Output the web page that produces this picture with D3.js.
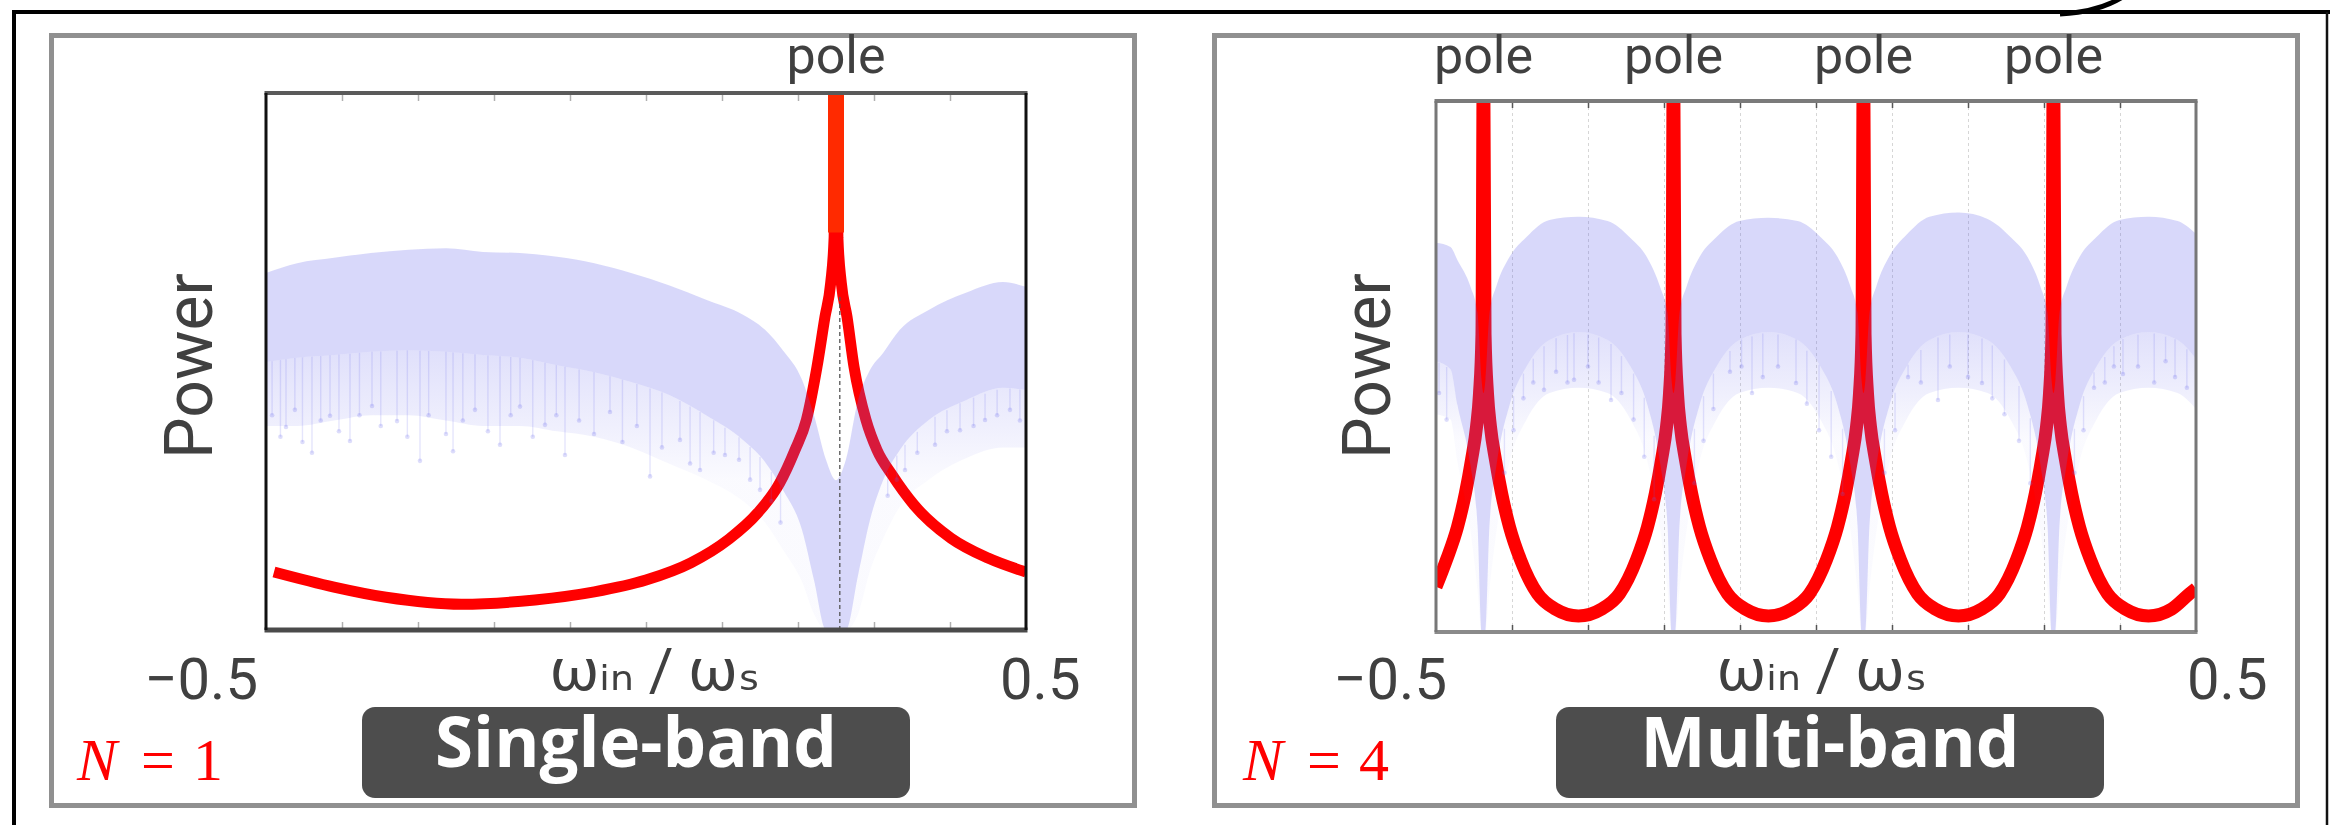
<!DOCTYPE html>
<html>
<head>
<meta charset="utf-8">
<script src="https://cdn.jsdelivr.net/npm/d3@7"></script>
<style>
  html, body { margin: 0; padding: 0; background: #fff; }
  svg { display: block; }
</style>
</head>
<body>
<div id="chart"></div>
<script>

// ---- data (x = omega_in / omega_s, power = relative 0..1 of plot height) ----
const xTickLabels = ['\u22120.5', '0.5'];
const xAxisLabel  = '\u03c9\u1d62\u2099 / \u03c9\u209b';
const bandNames   = ['Single-band', 'Multi-band'];
const bandCounts  = [1, 4];
const gridTicks   = [-0.4, -0.3, -0.2, -0.1, 0, 0.1, 0.2, 0.3, 0.4];

const singlePoles = [0.25];
const multiPoles  = [-0.4375, -0.1875, 0.0625, 0.3125];

// red response curve [x, power]
const singleRed = [
  [-0.4895, 0.108], [-0.4105, 0.080], [-0.342, 0.061], [-0.243, 0.048], [-0.146, 0.056],
  [-0.068, 0.071], [0.0, 0.093], [0.059, 0.125], [0.108, 0.168], [0.147, 0.218],
  [0.176, 0.274], [0.196, 0.335], [0.211, 0.391], [0.225, 0.490], [0.2355, 0.583],
  [0.243, 0.646], [0.2475, 0.73], [0.2495, 1.05], [0.2505, 1.05], [0.2525, 0.73],
  [0.257, 0.646], [0.2645, 0.583], [0.2737, 0.490], [0.2895, 0.391], [0.304, 0.335],
  [0.3237, 0.289], [0.3526, 0.233], [0.4013, 0.171], [0.45, 0.134], [0.5, 0.108]
];

const multiRed = [
  [-0.5, 0.085], [-0.4862, 0.136], [-0.4717, 0.198], [-0.4612, 0.262], [-0.4533, 0.324],
  [-0.4467, 0.386], [-0.4428, 0.448], [-0.4395, 0.561], [-0.4379, 1.05], [-0.4371, 1.05],
  [-0.4355, 0.561], [-0.4322, 0.448], [-0.4283, 0.386], [-0.4217, 0.324], [-0.4138, 0.262],
  [-0.4033, 0.198], [-0.3888, 0.136], [-0.3664, 0.072], [-0.3428, 0.043], [-0.3125, 0.030],
  [-0.2822, 0.043], [-0.2586, 0.072], [-0.2362, 0.136], [-0.2217, 0.198], [-0.2112, 0.262],
  [-0.2033, 0.324], [-0.1967, 0.386], [-0.1928, 0.448], [-0.1895, 0.561], [-0.1879, 1.05],
  [-0.1871, 1.05], [-0.1855, 0.561], [-0.1822, 0.448], [-0.1783, 0.386], [-0.1717, 0.324],
  [-0.1638, 0.262], [-0.1533, 0.198], [-0.1388, 0.136], [-0.1164, 0.072], [-0.0928, 0.043],
  [-0.0625, 0.030], [-0.0322, 0.043], [-0.0086, 0.072], [0.0138, 0.136], [0.0283, 0.198],
  [0.0388, 0.262], [0.0467, 0.324], [0.0533, 0.386], [0.0572, 0.448], [0.0605, 0.561],
  [0.0621, 1.05], [0.0629, 1.05], [0.0645, 0.561], [0.0678, 0.448], [0.0717, 0.386],
  [0.0783, 0.324], [0.0862, 0.262], [0.0967, 0.198], [0.1112, 0.136], [0.1336, 0.072],
  [0.1572, 0.043], [0.1875, 0.030], [0.2178, 0.043], [0.2414, 0.072], [0.2638, 0.136],
  [0.2783, 0.198], [0.2888, 0.262], [0.2967, 0.324], [0.3033, 0.386], [0.3072, 0.448],
  [0.3105, 0.561], [0.3121, 1.05], [0.3129, 1.05], [0.3145, 0.561], [0.3178, 0.448],
  [0.3217, 0.386], [0.3283, 0.324], [0.3362, 0.262], [0.3467, 0.198], [0.3612, 0.136],
  [0.3836, 0.072], [0.4072, 0.043], [0.4375, 0.030], [0.4678, 0.043], [0.4914, 0.072],
  [0.5, 0.082]
];

// blue input spectrum envelope [x, top, dense bottom, sparse floor]
const singleNoise = [
  [-0.5, 0.665, 0.499, 0.38], [-0.459, 0.683, 0.507, 0.38], [-0.4105, 0.693, 0.512, 0.39],
  [-0.362, 0.702, 0.518, 0.40], [-0.312, 0.708, 0.521, 0.40], [-0.263, 0.711, 0.518, 0.39],
  [-0.2145, 0.704, 0.512, 0.38], [-0.166, 0.702, 0.507, 0.38], [-0.117, 0.695, 0.493, 0.37],
  [-0.068, 0.683, 0.480, 0.36], [-0.0197, 0.665, 0.462, 0.34], [0.030, 0.642, 0.438, 0.31],
  [0.079, 0.615, 0.400, 0.28], [0.1276, 0.587, 0.354, 0.24], [0.1566, 0.559, 0.313, 0.20],
  [0.180, 0.521, 0.261, 0.15], [0.2053, 0.466, 0.186, 0.09], [0.221, 0.400, 0.093, 0.03],
  [0.2368, 0.317, 0, 0], [0.25, 0.279, 0, 0], [0.263, 0.317, 0, 0],
  [0.279, 0.428, 0.102, 0.03], [0.2947, 0.484, 0.205, 0.11], [0.312, 0.516, 0.279, 0.17],
  [0.334, 0.559, 0.335, 0.23], [0.372, 0.596, 0.391, 0.28], [0.421, 0.628, 0.428, 0.32],
  [0.4697, 0.648, 0.451, 0.34], [0.5, 0.639, 0.447, 0.34]
];

const multiNoise = [
  [-0.5, 0.733, 0.510, 0.41], [-0.4809, 0.725, 0.495, 0.40], [-0.4717, 0.700, 0.427, 0.32],
  [-0.4546, 0.650, 0.314, 0.19], [-0.4454, 0.601, 0.201, 0.08], [-0.4401, 0.475, 0, 0],
  [-0.4375, 0.45, 0, 0], [-0.4349, 0.475, 0, 0], [-0.4296, 0.601, 0.201, 0.08],
  [-0.4204, 0.652, 0.314, 0.19], [-0.4033, 0.706, 0.427, 0.32], [-0.3809, 0.744, 0.500, 0.40],
  [-0.3507, 0.776, 0.550, 0.45], [-0.3125, 0.782, 0.565, 0.46], [-0.2743, 0.774, 0.550, 0.45],
  [-0.2441, 0.742, 0.500, 0.40], [-0.2217, 0.704, 0.427, 0.32], [-0.2046, 0.648, 0.314, 0.19],
  [-0.1954, 0.601, 0.201, 0.08], [-0.1901, 0.475, 0, 0], [-0.1875, 0.45, 0, 0],
  [-0.1849, 0.475, 0, 0], [-0.1796, 0.601, 0.201, 0.08], [-0.1704, 0.650, 0.314, 0.19],
  [-0.1533, 0.706, 0.427, 0.32], [-0.1309, 0.744, 0.500, 0.40], [-0.1007, 0.774, 0.550, 0.45],
  [-0.0625, 0.780, 0.565, 0.46], [-0.0243, 0.774, 0.550, 0.45], [0.0059, 0.744, 0.500, 0.40],
  [0.0283, 0.706, 0.427, 0.32], [0.0454, 0.650, 0.314, 0.19], [0.0546, 0.601, 0.201, 0.08],
  [0.0599, 0.475, 0, 0], [0.0625, 0.45, 0, 0], [0.0651, 0.475, 0, 0],
  [0.0704, 0.601, 0.201, 0.08], [0.0796, 0.652, 0.314, 0.19], [0.0967, 0.708, 0.427, 0.32],
  [0.1191, 0.748, 0.500, 0.40], [0.1493, 0.782, 0.550, 0.45], [0.1875, 0.790, 0.565, 0.46],
  [0.2257, 0.778, 0.550, 0.45], [0.2559, 0.744, 0.500, 0.40], [0.2783, 0.706, 0.427, 0.32],
  [0.2954, 0.650, 0.314, 0.19], [0.3046, 0.601, 0.201, 0.08], [0.3099, 0.475, 0, 0],
  [0.3125, 0.45, 0, 0], [0.3151, 0.475, 0, 0], [0.3204, 0.601, 0.201, 0.08],
  [0.3296, 0.650, 0.314, 0.19], [0.3467, 0.706, 0.427, 0.32], [0.3691, 0.744, 0.500, 0.40],
  [0.3993, 0.776, 0.550, 0.45], [0.4375, 0.782, 0.565, 0.46], [0.4757, 0.774, 0.550, 0.45],
  [0.5, 0.750, 0.515, 0.42]
];

// sparse downward spikes of the spectrum [x, lowest power]
const singleStems = [
  [-0.492, 0.40], [-0.481, 0.36], [-0.4737, 0.378], [-0.462, 0.41], [-0.452, 0.35],
  [-0.4395, 0.330], [-0.428, 0.39], [-0.4158, 0.399], [-0.404, 0.37], [-0.3895, 0.352],
  [-0.377, 0.40], [-0.3605, 0.417], [-0.349, 0.38], [-0.3276, 0.389], [-0.314, 0.36],
  [-0.2974, 0.315], [-0.286, 0.40], [-0.2632, 0.365], [-0.2539, 0.333], [-0.241, 0.39],
  [-0.225, 0.410], [-0.208, 0.37], [-0.1921, 0.345], [-0.178, 0.40], [-0.1658, 0.416],
  [-0.149, 0.36], [-0.1329, 0.382], [-0.118, 0.40], [-0.1066, 0.326], [-0.088, 0.39],
  [-0.0684, 0.365], [-0.0474, 0.406], [-0.031, 0.35], [-0.012, 0.38], [0.0053, 0.286],
  [0.021, 0.34], [0.0447, 0.354], [0.058, 0.31], [0.0711, 0.298], [0.089, 0.33],
  [0.1039, 0.326], [0.1224, 0.317], [0.137, 0.28], [0.15, 0.261], [0.165, 0.24],
  [0.177, 0.20], [0.318, 0.25], [0.33, 0.28], [0.3408, 0.298], [0.357, 0.33],
  [0.3803, 0.345], [0.396, 0.37], [0.4132, 0.372], [0.431, 0.38], [0.4461, 0.391],
  [0.462, 0.40], [0.4789, 0.410], [0.492, 0.39]
];

const multiStems = [
  [-0.496, 0.45], [-0.486, 0.40], [-0.41, 0.30], [-0.398, 0.38], [-0.385, 0.44],
  [-0.372, 0.47], [-0.3579, 0.456], [-0.342, 0.49], [-0.327, 0.47], [-0.3184, 0.475],
  [-0.300, 0.50], [-0.286, 0.47], [-0.2697, 0.437], [-0.256, 0.45], [-0.24, 0.40],
  [-0.226, 0.33], [-0.213, 0.25], [-0.16, 0.28], [-0.148, 0.36], [-0.135, 0.42],
  [-0.1132, 0.49], [-0.098, 0.50], [-0.0842, 0.450], [-0.07, 0.48], [-0.05, 0.50],
  [-0.0263, 0.469], [-0.012, 0.43], [0.004, 0.38], [0.02, 0.33], [0.035, 0.26],
  [0.09, 0.30], [0.104, 0.38], [0.1211, 0.48], [0.138, 0.47], [0.1605, 0.437],
  [0.176, 0.50], [0.2, 0.48], [0.2184, 0.469], [0.232, 0.44], [0.248, 0.41],
  [0.2671, 0.36], [0.282, 0.28], [0.34, 0.30], [0.352, 0.38], [0.3658, 0.46],
  [0.38, 0.47], [0.392, 0.50], [0.4039, 0.486], [0.4237, 0.50], [0.445, 0.47],
  [0.46, 0.51], [0.4724, 0.48], [0.488, 0.46]
];

// thin dashed marker under the single pole [x, power]
const singleDash = [[0.255, 0.62], [0.255, 0]];

const labelFont = 'Roboto, "DejaVu Sans", "Noto Sans", sans-serif';
const boldFont  = '"Open Sans", "Noto Sans", sans-serif';
const textColor = '#404040';
const blue      = 'rgb(100,100,235)';

const svg = d3.select('#chart')
  .append('svg')
  .attr('width', 2330)
  .attr('height', 825)
  .attr('viewBox', '0 0 2330 825');

svg.append('rect').attr('width', 2330).attr('height', 825).attr('fill', '#fff');
const defs = svg.append('defs');

// outer black frame and the arrow tail at the top
svg.append('path')
  .attr('d', 'M14,825 L14,12 L2330,12')
  .attr('fill', 'none').attr('stroke', '#000').attr('stroke-width', 4);
svg.append('line')
  .attr('x1', 2327).attr('x2', 2327).attr('y1', 12).attr('y2', 825)
  .attr('stroke', '#111').attr('stroke-width', 2.5);
svg.append('path')
  .attr('d', 'M2060,14 Q2100,12 2124,-4')
  .attr('fill', 'none').attr('stroke', '#000').attr('stroke-width', 5);

function denseAt(rows, xv) {
  const i = Math.max(0, Math.min(rows.length - 2, d3.bisector(r => r[0]).right(rows, xv) - 1));
  const a = rows[i], b = rows[i + 1];
  const t = (xv - a[0]) / (b[0] - a[0]);
  return a[2] + (b[2] - a[2]) * t;
}

function drawPanel(opt) {
  const x = d3.scaleLinear().domain([-0.5, 0.5]).range([opt.left, opt.right]);
  const y = d3.scaleLinear().domain([0, 1]).range([opt.bottom, opt.top]);
  const height = opt.bottom - opt.top;

  // gray card
  svg.append('rect')
    .attr('x', opt.boxX).attr('y', 35.5)
    .attr('width', 1083).attr('height', 770)
    .attr('fill', '#fff').attr('stroke', '#909090').attr('stroke-width', 5);

  const clipId = 'clip-' + opt.id;
  defs.append('clipPath').attr('id', clipId)
    .append('rect')
    .attr('x', opt.left).attr('y', opt.top)
    .attr('width', opt.right - opt.left).attr('height', height);

  // fading fill for the sparse lower part of the spectrum
  const fadeId = 'fade-' + opt.id;
  const grad = defs.append('linearGradient').attr('id', fadeId)
    .attr('gradientUnits', 'userSpaceOnUse')
    .attr('x1', 0).attr('x2', 0)
    .attr('y1', y(opt.fade[0])).attr('y2', y(opt.fade[1]));
  grad.append('stop').attr('offset', 0).attr('stop-color', blue).attr('stop-opacity', 0.2);
  grad.append('stop').attr('offset', 1).attr('stop-color', blue).attr('stop-opacity', 0.03);

  const plot = svg.append('g').attr('clip-path', `url(#${clipId})`);

  if (opt.grid) {
    plot.append('g')
      .attr('transform', `translate(0,${opt.bottom})`)
      .call(d3.axisBottom(x).tickValues(gridTicks).tickSize(-height).tickFormat(''))
      .call(g => g.select('.domain').remove())
      .call(g => g.selectAll('text').remove())
      .call(g => g.selectAll('line')
        .attr('stroke', '#d6d6d6').attr('stroke-width', 1).attr('stroke-dasharray', '3,3'));
  }

  const line = d3.line().x(d => x(d[0])).y(d => y(d[1])).curve(d3.curveMonotoneX);

  plot.append('path').datum(opt.red)
    .attr('d', line)
    .attr('fill', 'none')
    .attr('stroke', '#ff0000')
    .attr('stroke-width', opt.redWidth)
    .attr('stroke-linejoin', 'round');

  if (opt.poleCap) {
    plot.selectAll(null).data(opt.poles).join('line')
      .attr('x1', d => x(d)).attr('x2', d => x(d))
      .attr('y1', y(1)).attr('y2', y(0.74))
      .attr('stroke', '#ff2a00').attr('stroke-width', 16);
  }

  const dense = d3.area()
    .x(d => x(d[0])).y0(d => y(d[2])).y1(d => y(d[1]))
    .curve(d3.curveMonotoneX);
  const sparse = d3.area()
    .x(d => x(d[0])).y0(d => y(d[3])).y1(d => y(d[2]))
    .curve(d3.curveMonotoneX);

  plot.append('path').datum(opt.noise)
    .attr('d', dense).attr('fill', blue).attr('fill-opacity', 0.25);
  plot.append('path').datum(opt.noise)
    .attr('d', sparse).attr('fill', `url(#${fadeId})`);

  plot.selectAll(null).data(opt.stems).join('line')
    .attr('x1', d => x(d[0])).attr('x2', d => x(d[0]))
    .attr('y1', d => y(denseAt(opt.noise, d[0])))
    .attr('y2', d => y(d[1]))
    .attr('stroke', blue).attr('stroke-opacity', 0.17).attr('stroke-width', 1.4);
  plot.selectAll(null).data(opt.stems).join('circle')
    .attr('cx', d => x(d[0])).attr('cy', d => y(d[1])).attr('r', 2.3)
    .attr('fill', blue).attr('fill-opacity', 0.22);

  if (opt.dash) {
    plot.append('path').datum(opt.dash)
      .attr('d', d3.line().x(d => x(d[0])).y(d => y(d[1])))
      .attr('stroke', '#555').attr('stroke-width', 1.3).attr('stroke-dasharray', '4,3');
  }

  // ticks
  svg.append('g')
    .attr('transform', `translate(0,${opt.bottom})`)
    .call(d3.axisBottom(x).tickValues(gridTicks).tickSize(-opt.tickLen).tickFormat(''))
    .call(g => g.select('.domain').remove())
    .call(g => g.selectAll('text').remove())
    .call(g => g.selectAll('line').attr('stroke', opt.tickColor).attr('stroke-width', 1.5));
  svg.append('g')
    .attr('transform', `translate(0,${opt.top})`)
    .call(d3.axisTop(x).tickValues(gridTicks).tickSize(-opt.tickLen).tickFormat(''))
    .call(g => g.select('.domain').remove())
    .call(g => g.selectAll('text').remove())
    .call(g => g.selectAll('line').attr('stroke', opt.tickColor).attr('stroke-width', 1.5));

  // plot frame
  const f = opt.frame;
  svg.append('line').attr('x1', opt.left - 1.5).attr('x2', opt.right + 1.5)
    .attr('y1', opt.top).attr('y2', opt.top)
    .attr('stroke', f.top[0]).attr('stroke-width', f.top[1]);
  svg.append('line').attr('x1', opt.left - 1.5).attr('x2', opt.right + 1.5)
    .attr('y1', opt.bottom).attr('y2', opt.bottom)
    .attr('stroke', f.bottom[0]).attr('stroke-width', f.bottom[1]);
  svg.append('line').attr('x1', opt.left).attr('x2', opt.left)
    .attr('y1', opt.top).attr('y2', opt.bottom)
    .attr('stroke', f.side[0]).attr('stroke-width', f.side[1]);
  svg.append('line').attr('x1', opt.right).attr('x2', opt.right)
    .attr('y1', opt.top).attr('y2', opt.bottom)
    .attr('stroke', f.side[0]).attr('stroke-width', f.side[1]);

  // pole labels
  svg.selectAll(null).data(opt.poles).join('text')
    .attr('x', d => x(d)).attr('y', 73)
    .attr('text-anchor', 'middle')
    .style('font-family', labelFont).style('font-size', '52px').style('fill', textColor)
    .text('pole');

  // y label
  svg.append('text')
    .attr('transform', `translate(${opt.left - opt.powerGap},366) rotate(-90)`)
    .attr('text-anchor', 'middle')
    .style('font-family', labelFont).style('font-size', '66px').style('fill', textColor)
    .text('Power');

  // x tick labels
  svg.append('text')
    .attr('x', x(-0.5) + opt.tickDx[0]).attr('y', 699)
    .attr('text-anchor', 'end')
    .style('font-family', labelFont).style('font-size', '58px').style('fill', textColor)
    .text(xTickLabels[0]);
  svg.append('text')
    .attr('x', x(0.5) + opt.tickDx[1]).attr('y', 699)
    .attr('text-anchor', 'start')
    .style('font-family', labelFont).style('font-size', '58px').style('fill', textColor)
    .text(xTickLabels[1]);

  // x label omega_in / omega_s
  svg.append('text')
    .attr('x', x(0) + opt.wDx).attr('y', 690)
    .attr('text-anchor', 'middle')
    .style('font-family', labelFont).style('font-size', '60px').style('fill', textColor)
    .text(xAxisLabel);

  // band badge
  svg.append('rect')
    .attr('x', opt.badgeX - 274).attr('y', 707)
    .attr('width', 548).attr('height', 91).attr('rx', 13)
    .attr('fill', '#4d4d4d');
  svg.append('text')
    .attr('x', opt.badgeX).attr('y', 767)
    .attr('text-anchor', 'middle')
    .style('font-family', boldFont).style('font-weight', 700)
    .style('font-size', '69px').style('fill', '#fff')
    .text(opt.name);

  // N = ...
  const n = svg.append('text')
    .attr('x', opt.nX).attr('y', 780)
    .style('font-family', '"Liberation Serif", "DejaVu Serif", serif')
    .style('font-size', '60px').style('fill', '#ff0000');
  n.append('tspan').style('font-style', 'italic').text('N');
  n.append('tspan').attr('dx', 24).text('=');
  n.append('tspan').attr('dx', 18).text(opt.count);
}

drawPanel({
  id: 'single', name: bandNames[0], count: bandCounts[0],
  boxX: 51.5, left: 266, right: 1026, top: 93, bottom: 630,
  red: singleRed, noise: singleNoise, stems: singleStems, poles: singlePoles,
  redWidth: 11, poleCap: true, dash: singleDash, grid: false, fade: [0.52, 0.28],
  tickLen: 8, tickColor: '#b0b0b0',
  frame: { top: ['#5a5a5a', 4], bottom: ['#4a4a4a', 5], side: ['#111', 3] },
  powerGap: 54, tickDx: [-8, -26], wDx: 9, badgeX: 636, nX: 77
});

drawPanel({
  id: 'multi', name: bandNames[1], count: bandCounts[1],
  boxX: 1214.5, left: 1436, right: 2196, top: 101, bottom: 632,
  red: multiRed, noise: multiNoise, stems: multiStems, poles: multiPoles,
  redWidth: 13, poleCap: false, dash: null, grid: true, fade: [0.57, 0.36],
  tickLen: 7, tickColor: '#555',
  frame: { top: ['#7a7a7a', 4], bottom: ['#8a8a8a', 4], side: ['#777', 3] },
  powerGap: 46, tickDx: [11, -9], wDx: 6, badgeX: 1830, nX: 1243
});

</script>
</body>
</html>
